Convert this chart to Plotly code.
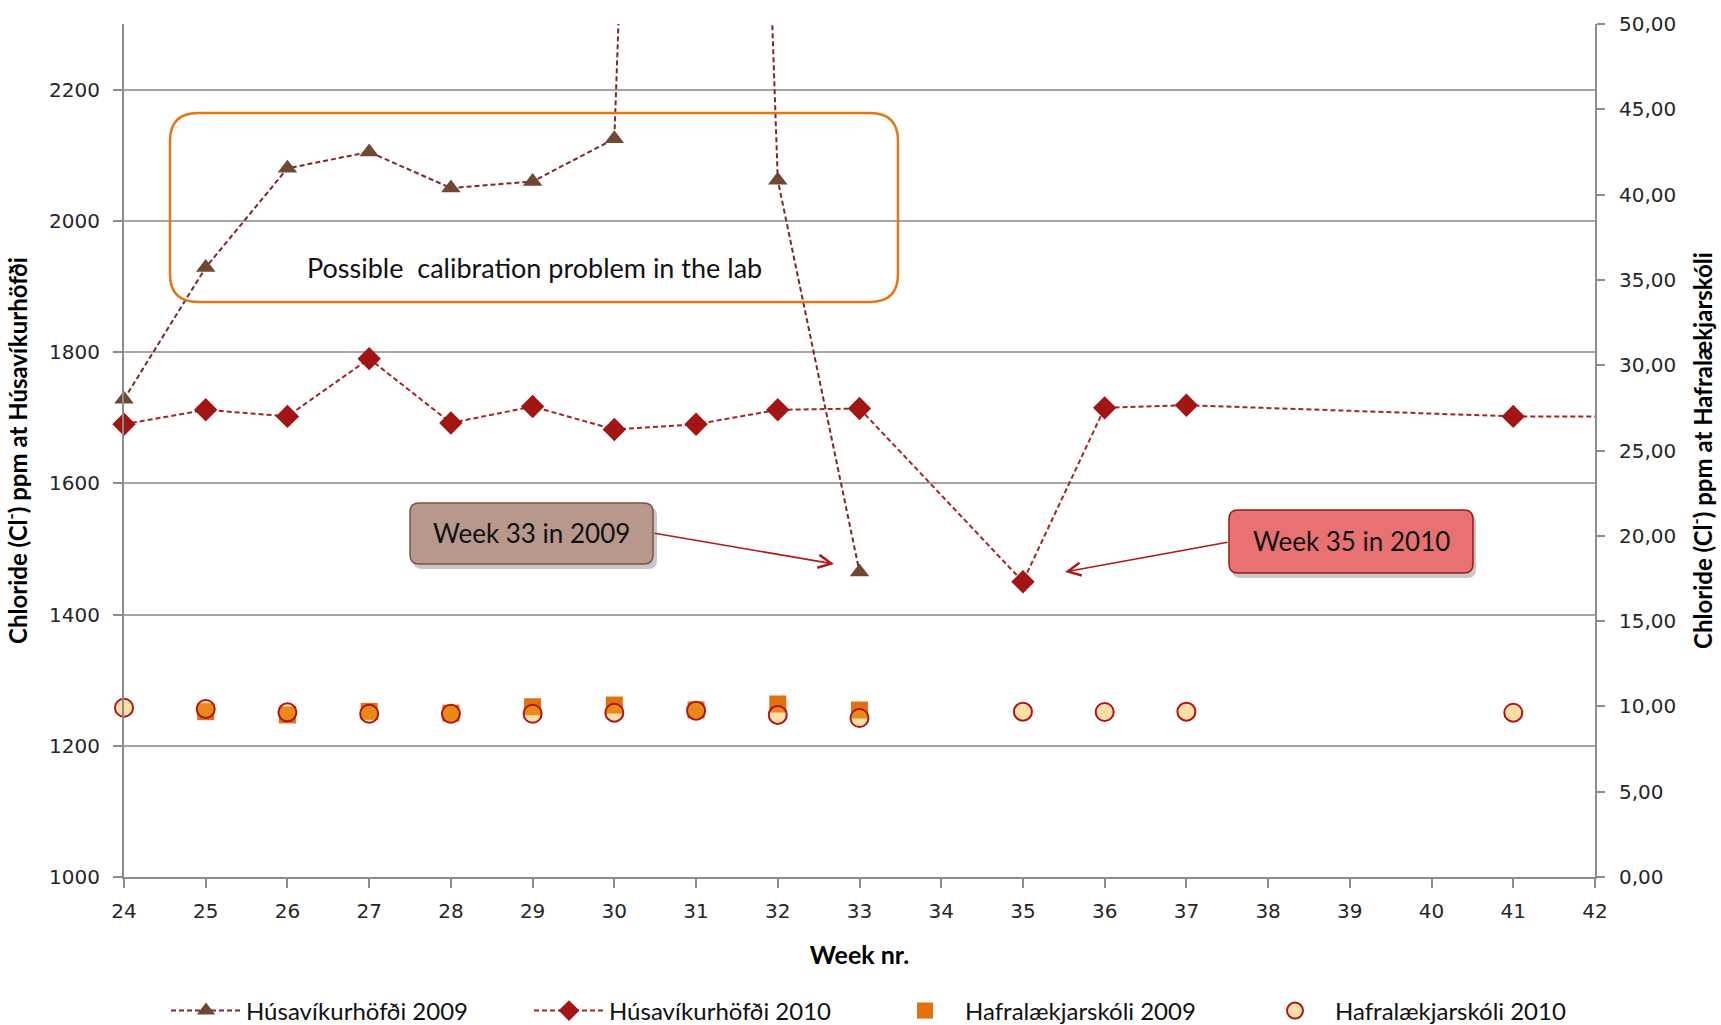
import plotly.graph_objects as go

# ---------------- data ----------------
weeks_hus_2009 = [24, 25, 26, 27, 28, 29, 30, 31, 32, 33]
hus_2009 = [1728, 1929, 2080, 2105, 2050, 2060, 2125, 5600, 2062, 1465]

weeks_hus_2010 = [24, 25, 26, 27, 28, 29, 30, 31, 32, 33, 35, 36, 37, 41, 43]
hus_2010 = [1690, 1712, 1702, 1790, 1692, 1717, 1682, 1690, 1712, 1714, 1450, 1715, 1719, 1702, 1702]

weeks_haf_2009 = [25, 26, 27, 28, 29, 30, 31, 32, 33]
haf_2009 = [9.69, 9.50, 9.71, 9.60, 9.98, 10.08, 9.79, 10.14, 9.79]

weeks_haf_2010 = [24, 25, 26, 27, 28, 29, 30, 31, 32, 33, 35, 36, 37, 41]
haf_2010 = [9.92, 9.85, 9.65, 9.57, 9.57, 9.57, 9.63, 9.75, 9.50, 9.32, 9.69, 9.67, 9.69, 9.63]

names = ["Húsavíkurhöfði 2009", "Húsavíkurhöfði 2010", "Hafralækjarskóli 2009", "Hafralækjarskóli 2010"]

X_MAX = 42

# ---------------- layout geometry (pixels) ----------------
W, H = 1721, 1025
L, R, T, B = 124, 1595, 24, 877
PW, PH = R - L, B - T


def px(x):
    return (x - L) / PW


def py(y):
    return (B - y) / PH


def rrect(x0, y0, x1, y1, r):
    pts = [
        ("M", [(x0 + r, y0)]), ("L", [(x1 - r, y0)]), ("Q", [(x1, y0), (x1, y0 + r)]),
        ("L", [(x1, y1 - r)]), ("Q", [(x1, y1), (x1 - r, y1)]),
        ("L", [(x0 + r, y1)]), ("Q", [(x0, y1), (x0, y1 - r)]),
        ("L", [(x0, y0 + r)]), ("Q", [(x0, y0), (x0 + r, y0)]),
    ]
    s = ""
    for cmd, ps in pts:
        s += cmd + " ".join(f"{px(a):.5f},{py(b):.5f}" for a, b in ps) + " "
    return s + "Z"


fig = go.Figure()

fig.add_trace(go.Scatter(
    x=weeks_hus_2009, y=hus_2009, name=names[0], mode="lines+markers", cliponaxis=False,
    legend="legend",
    line=dict(color="#7E2626", width=2, dash="5px,3px"),
    marker=dict(symbol="triangle-up", size=17, color="#6E4735", opacity=1),
))
fig.add_trace(go.Scatter(
    x=weeks_hus_2010, y=hus_2010, name=names[1], mode="lines+markers", cliponaxis=False,
    legend="legend",
    line=dict(color="#A52424", width=2, dash="5px,3px"),
    marker=dict(symbol="diamond", size=[18 if w <= X_MAX else 0 for w in weeks_hus_2010],
                color="#A31414", opacity=1, line=dict(width=0)),
))
fig.add_trace(go.Scatter(
    x=weeks_haf_2009, y=haf_2009, name=names[2], mode="markers", yaxis="y2", cliponaxis=False,
    legend="legend2",
    marker=dict(symbol="square", size=17, color="#E2700F"),
))
fig.add_trace(go.Scatter(
    x=weeks_haf_2010, y=haf_2010, name=names[3], mode="markers", yaxis="y2", cliponaxis=False,
    legend="legend2",
    marker=dict(symbol="circle", size=18, color="rgba(245,175,40,0.4)",
                line=dict(color="#B01515", width=2)),
))

shapes = []
# orange rounded box
shapes.append(dict(type="path", xref="paper", yref="paper",
                   path=rrect(170, 113, 898, 302, 28),
                   line=dict(color="#E57614", width=2.5), fillcolor="rgba(0,0,0,0)"))
# week 33 box (shadow + box)
shapes.append(dict(type="path", xref="paper", yref="paper",
                   path=rrect(413, 507, 657, 569, 9),
                   line=dict(width=0), fillcolor="rgba(0,0,0,0.22)"))
shapes.append(dict(type="path", xref="paper", yref="paper",
                   path=rrect(410, 503, 653, 564, 9),
                   line=dict(color="#7A5446", width=1.5), fillcolor="#B8978C"))
# week 35 box (shadow + box)
shapes.append(dict(type="path", xref="paper", yref="paper",
                   path=rrect(1232, 514, 1476, 578, 9),
                   line=dict(width=0), fillcolor="rgba(0,0,0,0.22)"))
shapes.append(dict(type="path", xref="paper", yref="paper",
                   path=rrect(1229, 510, 1473, 573, 9),
                   line=dict(color="#A01818", width=1.5), fillcolor="#E87272"))

annotations = [
    dict(text="Possible  calibration problem in the lab", xref="paper", yref="paper",
         x=px(534), y=py(267), xanchor="center", yanchor="middle", showarrow=False,
         font=dict(family="Lato", size=27, color="#111111")),
    dict(text="Week 33 in 2009", xref="paper", yref="paper", x=px(531), y=py(533),
         xanchor="center", yanchor="middle",
         showarrow=False, font=dict(family="Lato", size=26, color="#111111")),
    dict(text="Week 35 in 2010", xref="paper", yref="paper", x=px(1351), y=py(541),
         xanchor="center", yanchor="middle",
         showarrow=False, font=dict(family="Lato", size=26, color="#111111")),
    dict(text="", xref="paper", yref="paper", x=px(834), y=py(564),
         ax=653 - 834, ay=533 - 564, showarrow=True, arrowhead=5, arrowsize=1.6,
         arrowwidth=1.6, arrowcolor="#B01818"),
    dict(text="", xref="paper", yref="paper", x=px(1065), y=py(572),
         ax=1229 - 1065, ay=542 - 572, showarrow=True, arrowhead=5, arrowsize=1.6,
         arrowwidth=1.6, arrowcolor="#B01818"),
]

tickfont = dict(family="DejaVu Sans", size=20, color="#262626")
titlefont = dict(family="Lato", size=24, color="#000000", weight="bold")
legfont = dict(family="Lato", size=24, color="#111111")

fig.update_layout(
    width=W, height=H, autosize=False,
    margin=dict(l=L, r=W - R, t=T, b=H - B, autoexpand=False),
    paper_bgcolor="white", plot_bgcolor="white",
    separators=",.",
    shapes=shapes, annotations=annotations,
    showlegend=True,
    legend=dict(orientation="h", x=px(166), y=py(1011), xanchor="left", yanchor="middle",
                itemwidth=70, entrywidth=278, entrywidthmode="pixels",
                font=legfont, traceorder="normal", bgcolor="rgba(0,0,0,0)"),
    legend2=dict(orientation="h", x=px(885), y=py(1011), xanchor="left", yanchor="middle",
                 itemwidth=70, entrywidth=285, entrywidthmode="pixels",
                 font=legfont, traceorder="normal", bgcolor="rgba(0,0,0,0)"),
    xaxis=dict(range=[24, X_MAX], dtick=1, tick0=24, showgrid=False, zeroline=False,
               showline=True, linecolor="#8C8C8C", linewidth=2,
               ticks="outside", ticklen=9, tickcolor="#8C8C8C", tickwidth=1.5,
               tickfont=tickfont, ticklabelstandoff=6,
               title=dict(text="Week nr.", font=dict(family="Lato", size=25, color="#000000", weight="bold"),
                          standoff=24)),
    yaxis=dict(range=[1000, 2300], tick0=1000, dtick=200, showgrid=True, gridcolor="#A6A6A6",
               gridwidth=1.5, zeroline=False, showline=True, linecolor="#8C8C8C", linewidth=2,
               ticks="outside", ticklen=9, tickcolor="#8C8C8C", tickwidth=1.5,
               tickfont=tickfont, ticklabelstandoff=9,
               title=dict(text="Chloride (Cl<sup>-</sup>) ppm at Húsavíkurhöfði", font=titlefont,
                          standoff=19)),
    yaxis2=dict(range=[0, 50], tick0=0, dtick=5, tickformat=".2f", overlaying="y", side="right",
                showgrid=False, zeroline=False, showline=True, linecolor="#8C8C8C", linewidth=2,
                ticks="outside", ticklen=8, tickcolor="#8C8C8C", tickwidth=1.5,
                tickfont=tickfont, ticklabelstandoff=10,
                title=dict(text="Chloride (Cl<sup>-</sup>) ppm at Hafralækjarskóli", font=titlefont,
                           standoff=20)),
)

fig.write_html("out.html")
